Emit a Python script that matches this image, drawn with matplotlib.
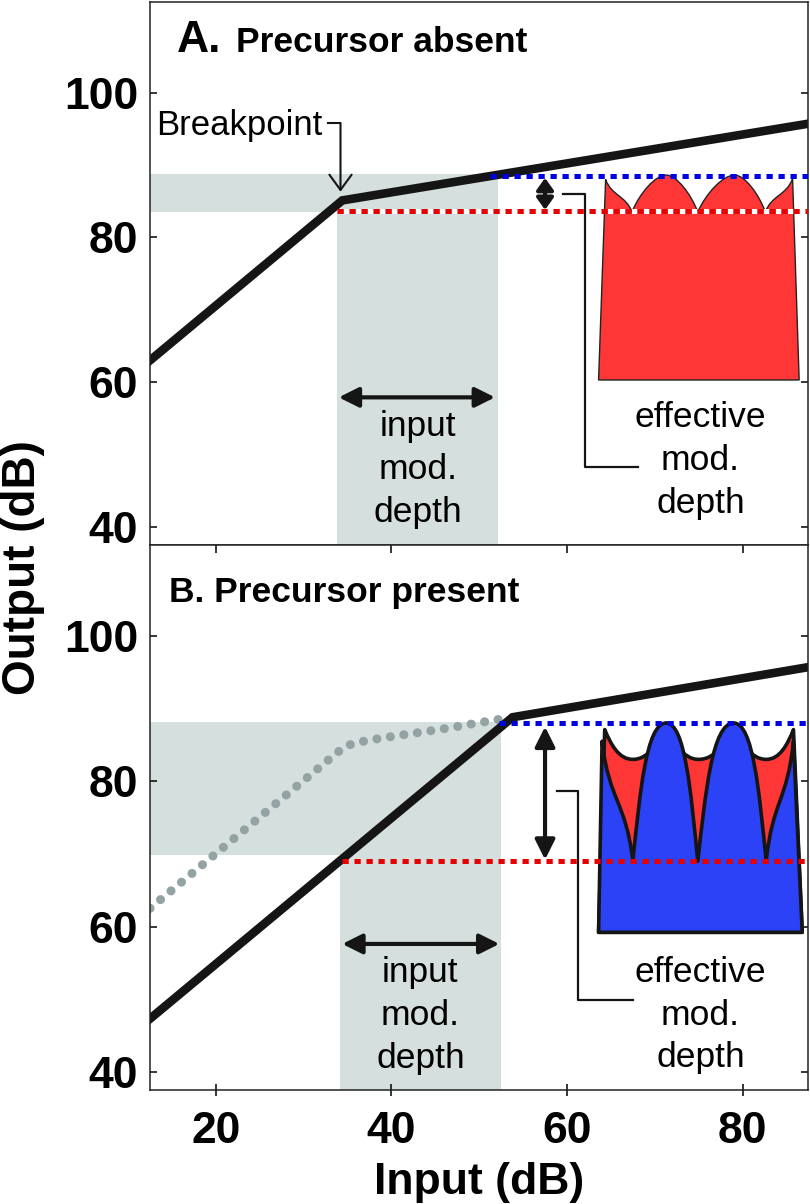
import matplotlib
matplotlib.use('Agg')
import matplotlib.pyplot as plt
from matplotlib.path import Path
from matplotlib.patches import PathPatch

plt.rcParams['font.family'] = ['Liberation Sans', 'DejaVu Sans']

# axes
x_lim = [12.5, 87.5]
y_lim = [37.5, 112.5]
x_ticks = [20, 40, 60, 80]
y_ticks = [40, 60, 80, 100]

# input/output functions (black lines)
io_a_x = [12.5, 34.4, 87.5]
io_a_y = [63.0, 85.1, 95.7]
io_b_x = [12.5, 53.8, 87.5]
io_b_y = [47.3, 88.8, 95.7]
# precursor-absent function, shown again as grey dots in B
ghost_x = [12.5, 32.1, 34.6, 35.9, 39.2, 45.4, 53.2]
ghost_y = [62.5, 82.2, 84.7, 85.3, 86.0, 87.1, 88.7]

# shaded input / output ranges (L shapes)
shade_a_x = [12.5, 33.8, 33.8, 52.1, 52.1, 12.5]
shade_a_y = [83.5, 83.5, 37.5, 37.5, 88.7, 88.7]
shade_b_x = [12.5, 34.1, 34.1, 52.5, 52.5, 12.5]
shade_b_y = [69.8, 69.8, 37.5, 37.5, 88.2, 88.2]

# peak / trough levels (dotted)
blue_a_x, blue_a_y = [51.2, 87.5], [88.5, 88.5]
red_a_x, red_a_y = [33.8, 87.5], [83.6, 83.6]
blue_b_x, blue_b_y = [52.3, 87.5], [88.0, 88.0]
red_b_x, red_b_y = [34.4, 87.5], [69.0, 69.0]

# modulated stimulus insets: envelope key points (sharp = cusp)
inset_a_base_x, inset_a_base_y = [63.6, 86.45], [60.3, 60.3]
env_a_x = [64.4, 67.4, 71.3, 74.9, 79.1, 82.6, 85.7]
env_a_y = [88.0, 83.5, 88.6, 83.5, 88.6, 83.5, 88.1]
env_a_sharp = [1, 1, 0, 1, 0, 1, 1]
inset_b_base_x, inset_b_base_y = [63.6, 86.8], [59.2, 59.2]
env_b_red_x = [64.3, 67.5, 71.3, 75.0, 79.0, 82.7, 85.8]
env_b_red_y = [87.1, 83.0, 88.0, 83.0, 88.0, 83.0, 87.1]
env_b_red_sharp = [1, 0, 1, 0, 1, 0, 1]
env_b_blue_x = [64.0, 67.5, 71.3, 74.9, 79.0, 82.7, 85.8]
env_b_blue_y = [85.5, 69.0, 88.0, 69.0, 88.0, 69.0, 85.5]
env_b_blue_sharp = [1, 1, 0, 1, 0, 1, 1]

# annotation geometry
in_arrow_a = [34.0, 51.8, 57.9]   # x0, x1, y
in_arrow_b = [34.4, 52.3, 57.6]
eff_arrow_a = [57.5, 83.8, 88.2]  # x, y0, y1
eff_arrow_b = [57.5, 69.2, 87.5]
brk_a_x, brk_a_y = [59.6, 62.0, 62.0, 68.1], [86.0, 86.0, 48.3, 48.3]
brk_b_x, brk_b_y = [58.9, 61.3, 61.3, 67.5], [78.6, 78.6, 49.9, 49.9]
bp_x, bp_y = [32.8, 34.2, 34.2], [95.8, 95.8, 86.3]

GRAY = '#d5dfdd'
DOTS = '#93a3a4'
RED = '#ff3636'
BLUE = '#2b42f6'
LBLUE = '#0000e0'
LRED = '#e60000'
INK = '#151515'


def envelope_patch(bx, by, wx, wy, sharp, rnd=0.32, **kw):
    verts = [(bx[0], by[0]), (wx[0], wy[0])]
    codes = [Path.MOVETO, Path.LINETO]
    for i in range(len(wx) - 1):
        x0, y0, x1, y1 = wx[i], wy[i], wx[i + 1], wy[i + 1]
        dx, dy = x1 - x0, y1 - y0
        h0 = (0.22 * dx, 0.5 * dy) if sharp[i] else (rnd * dx, 0)
        h1 = (0.22 * dx, 0.5 * dy) if sharp[i + 1] else (rnd * dx, 0)
        verts += [(x0 + h0[0], y0 + h0[1]), (x1 - h1[0], y1 - h1[1]), (x1, y1)]
        codes += [Path.CURVE4] * 3
    verts += [(bx[1], by[1]), (bx[0], by[0])]
    codes += [Path.LINETO, Path.CLOSEPOLY]
    return PathPatch(Path(verts, codes), **kw)


def dbl_arrow(ax, p0, p1, hl, hw):
    ax.annotate('', xy=p1, xytext=p0, zorder=6,
                arrowprops=dict(arrowstyle='<|-|>,head_length=%g,head_width=%g' % (hl, hw),
                                lw=3, color=INK, shrinkA=0, shrinkB=0, mutation_scale=20))


def style_axes(ax):
    ax.set_xlim(x_lim)
    ax.set_ylim(y_lim)
    ax.set_yticks(y_ticks)
    ax.set_xticks(x_ticks)
    for s in ax.spines.values():
        s.set_linewidth(1.1)
        s.set_color('#222222')
    ax.tick_params(axis='y', direction='in', length=5, width=1.1, left=True, right=True,
                   labelsize=32, pad=8.5)
    for lab in ax.get_yticklabels():
        lab.set_fontweight('bold')


fig = plt.figure(figsize=(8.1, 12.04), dpi=100)
axA = fig.add_axes([0.1852, 0.5473, 0.8128, 0.451])
axB = fig.add_axes([0.1852, 0.0947, 0.8128, 0.4526])

# ---------------- panel A ----------------
ax = axA
ax.fill(shade_a_x, shade_a_y, color=GRAY, lw=0, zorder=0.5)
ax.plot(io_a_x, io_a_y, color=INK, lw=6.2, solid_joinstyle='miter', zorder=2)
ax.add_patch(envelope_patch(inset_a_base_x, inset_a_base_y, env_a_x, env_a_y, env_a_sharp,
                            facecolor=RED, edgecolor='#222222', lw=1.0, zorder=2.5))
ax.plot(blue_a_x, blue_a_y, color=LBLUE, lw=3.6, ls=(0, (1.25, 1.15)),
        dash_capstyle='butt', zorder=3)
ax.plot(red_a_x, red_a_y, color=LRED, lw=3.6, ls=(0, (1.25, 1.15)), gapcolor='white',
        dash_capstyle='butt', zorder=3)
dbl_arrow(ax, (in_arrow_a[0], in_arrow_a[2]), (in_arrow_a[1], in_arrow_a[2]), 0.6, 0.3)
dbl_arrow(ax, (eff_arrow_a[0], eff_arrow_a[1]), (eff_arrow_a[0], eff_arrow_a[2]), 0.35, 0.25)
ax.plot(brk_a_x, brk_a_y, color=INK, lw=1.6, zorder=4)
ax.plot(bp_x[:2], bp_y[:2], color=INK, lw=1.5, zorder=4)
ax.annotate('', xy=(bp_x[2], bp_y[2]), xytext=(bp_x[1], bp_y[1]), zorder=6,
            arrowprops=dict(arrowstyle='->,head_length=0.55,head_width=0.4', lw=1.5,
                            color=INK, shrinkA=0, shrinkB=0, mutation_scale=20))
ax.text(13.2, 94.1, 'Breakpoint', fontsize=25, va='baseline', ha='left', zorder=6)
ax.text(15.6, 105.6, 'A.', fontsize=32, fontweight='bold', va='baseline')
ax.text(22.3, 105.6, 'Precursor absent', fontsize=25.5, fontweight='bold', va='baseline')
ax.text(43.0, 40.7, 'input\nmod.\ndepth', fontsize=25.5, ha='center', va='baseline',
        multialignment='center', linespacing=1.38)
ax.text(75.2, 41.9, 'effective\nmod.\ndepth', fontsize=25.5, ha='center', va='baseline',
        multialignment='center', linespacing=1.38)
style_axes(ax)
ax.tick_params(axis='x', bottom=False, top=False, labelbottom=False)

# ---------------- panel B ----------------
ax = axB
ax.fill(shade_b_x, shade_b_y, color=GRAY, lw=0, zorder=0.5)
ax.plot(ghost_x, ghost_y, color=DOTS, lw=6.5, ls=(0, (0.01, 1.5)), dash_capstyle='round',
        zorder=1.5)
ax.plot(io_b_x, io_b_y, color=INK, lw=6.2, solid_joinstyle='miter', zorder=2)
ax.add_patch(envelope_patch(inset_b_base_x, inset_b_base_y, env_b_red_x, env_b_red_y,
                            env_b_red_sharp, rnd=0.5, facecolor=RED, edgecolor=INK, lw=2.6,
                            joinstyle='round', zorder=2.5))
ax.add_patch(envelope_patch(inset_b_base_x, inset_b_base_y, env_b_blue_x, env_b_blue_y,
                            env_b_blue_sharp, rnd=0.6, facecolor=BLUE, edgecolor=INK, lw=2.6,
                            joinstyle='round', zorder=2.6))
ax.plot(blue_b_x, blue_b_y, color=LBLUE, lw=3.6, ls=(0, (1.25, 1.15)),
        dash_capstyle='butt', zorder=3)
ax.plot(red_b_x, red_b_y, color=LRED, lw=3.6, ls=(0, (1.25, 1.15)),
        dash_capstyle='butt', zorder=3)
dbl_arrow(ax, (in_arrow_b[0], in_arrow_b[2]), (in_arrow_b[1], in_arrow_b[2]), 0.6, 0.3)
dbl_arrow(ax, (eff_arrow_b[0], eff_arrow_b[1]), (eff_arrow_b[0], eff_arrow_b[2]), 0.6, 0.3)
ax.plot(brk_b_x, brk_b_y, color=INK, lw=1.6, zorder=4)
ax.text(14.7, 104.6, 'B. Precursor present', fontsize=25.5, fontweight='bold', va='baseline')
ax.text(43.3, 40.5, 'input\nmod.\ndepth', fontsize=25.5, ha='center', va='baseline',
        multialignment='center', linespacing=1.38)
ax.text(75.2, 40.6, 'effective\nmod.\ndepth', fontsize=25.5, ha='center', va='baseline',
        multialignment='center', linespacing=1.38)
style_axes(ax)
ax.tick_params(axis='x', direction='inout', length=9, width=1.1, labelsize=32, pad=10.5)
for lab in ax.get_xticklabels():
    lab.set_fontweight('bold')
top = ax.secondary_xaxis('top')
top.set_xticks(x_ticks)
top.tick_params(direction='in', length=6, width=1.1, labeltop=False)
top.spines['top'].set_visible(False)
ax.set_xlabel('Input (dB)', fontsize=32, fontweight='bold', labelpad=7)

fig.text(0.028, 0.529, 'Output (dB)', rotation=90, fontsize=33, fontweight='bold',
         ha='center', va='center')

fig.savefig('out.png', dpi=100)
